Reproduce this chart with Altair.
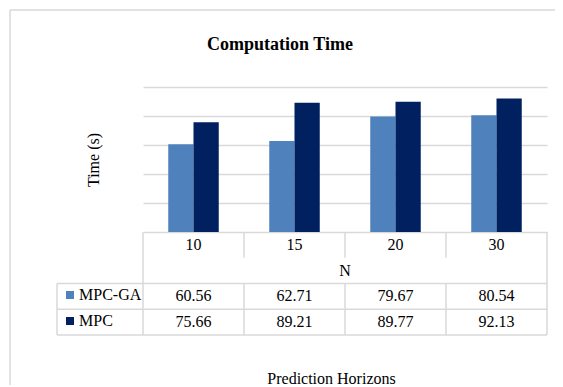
import altair as alt
import pandas as pd

# ---- data ----
TITLE = "Computation Time"
N_LABELS = ["10", "15", "20", "30"]
SERIES = ["MPC-GA", "MPC"]
MPC_GA = [60.56, 62.71, 79.67, 80.54]
MPC = [75.66, 89.21, 89.77, 92.13]
COLORS = ["#4F81BD", "#002060"]
GRID_VALUES = [0, 20, 40, 60, 80, 100]

FONT = "Liberation Serif"
GRAY = "#d9d9d9"
W, H = 404, 145

bars_df = pd.DataFrame(
    [{"N": n, "series": "MPC-GA", "value": v} for n, v in zip(N_LABELS, MPC_GA)]
    + [{"N": n, "series": "MPC", "value": v} for n, v in zip(N_LABELS, MPC)]
)

# table rows: 0 = N labels, 1 = "N", 2 = MPC-GA, 3 = MPC
text_df = pd.DataFrame(
    [{"N": n, "y": 0.5, "t": n} for n in N_LABELS]
    + [{"N": n, "y": 2.5, "t": f"{v:.2f}"} for n, v in zip(N_LABELS, MPC_GA)]
    + [{"N": n, "y": 3.5, "t": f"{v:.2f}"} for n, v in zip(N_LABELS, MPC)]
)
ntext_df = pd.DataFrame([{"y": 1.5, "t": "N"}])
vl_df = pd.DataFrame(
    [{"N": "10", "y0": 0, "y1": 4}]
    + [{"N": n, "y0": a, "y1": b} for n in N_LABELS[1:] for a, b in [(0, 1), (2, 4)]]
)
vr_df = pd.DataFrame([{"N": N_LABELS[-1], "y0": 0, "y1": 4}])
hl_df = pd.DataFrame({"y": [2, 3, 4]})
legv_df = pd.DataFrame([{"y0": 2, "y1": 4}])

xscale = alt.Scale(domain=N_LABELS, paddingInner=0, paddingOuter=0)
xaxis = alt.Axis(labels=False, ticks=False, domain=False, grid=False,
                 title="Prediction Horizons", titleFont=FONT, titleFontSize=16,
                 titleFontWeight="normal", titleColor="black",
                 titleX=188, titleY=146, titleBaseline="middle")

def X(**kw):
    return alt.X("N:N", scale=xscale, axis=xaxis, **kw)

bars = alt.Chart(bars_df).mark_bar().encode(
    x=X(),
    xOffset=alt.XOffset("series:N", sort=SERIES,
                        scale=alt.Scale(domain=SERIES, paddingInner=0, paddingOuter=1)),
    y=alt.Y("value:Q", scale=alt.Scale(domain=[0, 100]),
            axis=alt.Axis(values=GRID_VALUES, labels=False, ticks=False, domain=False,
                          grid=True, gridColor=GRAY, gridWidth=1.5,
                          title="Time (s)", titleFont=FONT, titleFontSize=16,
                          titleFontWeight="normal", titleColor="black",
                          titleAngle=270, titleX=-50, titleY=72.5,
                          titleBaseline="middle")),
    color=alt.Color("series:N", sort=SERIES,
                    scale=alt.Scale(domain=SERIES, range=COLORS),
                    legend=alt.Legend(orient="none", legendX=-81, legendY=200,
                                      direction="vertical", title=None,
                                      symbolType="square", symbolSize=64,
                                      symbolStrokeWidth=0, labelFont=FONT,
                                      labelFontSize=16, labelColor="black",
                                      rowPadding=10, labelOffset=1, padding=0)),
)

yt = alt.Scale(domain=[0, 4], range=[H, 248])

texts = alt.Chart(text_df).mark_text(font=FONT, fontSize=16, color="black").encode(
    x=X(), y=alt.Y("y:Q", scale=yt, axis=None), text="t:N")
ntext = alt.Chart(ntext_df).mark_text(font=FONT, fontSize=16, color="black").encode(
    y=alt.Y("y:Q", scale=yt, axis=None), text="t:N")
vleft = alt.Chart(vl_df).mark_rule(color=GRAY, strokeWidth=1.5).encode(
    x=X(bandPosition=0), y=alt.Y("y0:Q", scale=yt, axis=None), y2="y1:Q")
vright = alt.Chart(vr_df).mark_rule(color=GRAY, strokeWidth=1.5).encode(
    x=X(bandPosition=1), y=alt.Y("y0:Q", scale=yt, axis=None), y2="y1:Q")
hlines = alt.Chart(hl_df).mark_rule(color=GRAY, strokeWidth=1.5).encode(
    x=alt.value(-86), x2=alt.value(W), y=alt.Y("y:Q", scale=yt, axis=None))
legv = alt.Chart(legv_df).mark_rule(color=GRAY, strokeWidth=1.5).encode(
    x=alt.value(-86), y=alt.Y("y0:Q", scale=yt, axis=None), y2="y1:Q")

table = alt.layer(vleft, vright, hlines, legv, texts, ntext)

title_mark = alt.Chart(pd.DataFrame({"t": [TITLE]})).mark_text(
    font=FONT, fontSize=18, fontWeight="bold", color="black",
    align="center", baseline="middle"
).encode(x=alt.value(137), y=alt.value(-42), text="t:N")

frame_top = alt.Chart(pd.DataFrame({"a": [0]})).mark_rule(color=GRAY, strokeWidth=1.5).encode(
    x=alt.value(-133), x2=alt.value(420), y=alt.value(-77))
frame_left = alt.Chart(pd.DataFrame({"a": [0]})).mark_rule(color=GRAY, strokeWidth=1.5).encode(
    x=alt.value(-133), y=alt.value(-77), y2=alt.value(320))

chart = alt.layer(bars, table, title_mark, frame_top, frame_left).resolve_scale(
    y="independent"
).properties(
    width=W, height=H,
    autosize=alt.AutoSizeParams(type="none"),
    padding={"left": 135, "top": 79, "right": 8, "bottom": 153},
).configure_view(strokeWidth=0)

chart.save("out.html", embed_options={"renderer": "svg", "actions": False})
